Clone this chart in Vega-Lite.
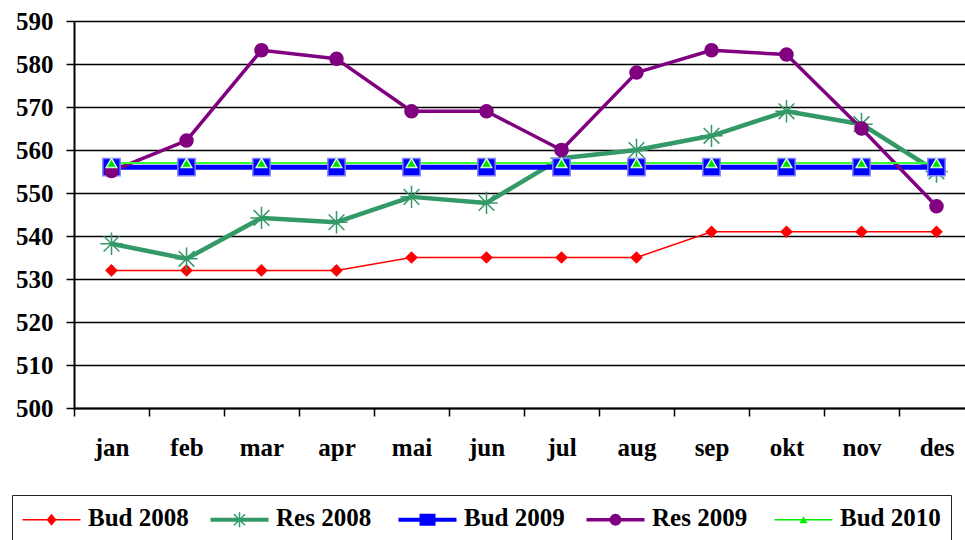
{
  "$schema": "https://vega.github.io/schema/vega-lite/v6.json",
  "width": 891,
  "height": 387,
  "autosize": {"type": "none"},
  "padding": {"left": 74, "top": 21, "right": 0, "bottom": 132},
  "background": "white",
  "config": {"view": {"stroke": null}, "font": "Liberation Serif"},
  "data": {
    "values": [
      {"month": "jan", "series": "Bud 2008", "value": 532},
      {"month": "feb", "series": "Bud 2008", "value": 532},
      {"month": "mar", "series": "Bud 2008", "value": 532},
      {"month": "apr", "series": "Bud 2008", "value": 532},
      {"month": "mai", "series": "Bud 2008", "value": 535},
      {"month": "jun", "series": "Bud 2008", "value": 535},
      {"month": "jul", "series": "Bud 2008", "value": 535},
      {"month": "aug", "series": "Bud 2008", "value": 535},
      {"month": "sep", "series": "Bud 2008", "value": 541},
      {"month": "okt", "series": "Bud 2008", "value": 541},
      {"month": "nov", "series": "Bud 2008", "value": 541},
      {"month": "des", "series": "Bud 2008", "value": 541},
      {"month": "jan", "series": "Res 2008", "value": 538.2},
      {"month": "feb", "series": "Res 2008", "value": 534.7},
      {"month": "mar", "series": "Res 2008", "value": 544.2},
      {"month": "apr", "series": "Res 2008", "value": 543.2},
      {"month": "mai", "series": "Res 2008", "value": 549.1},
      {"month": "jun", "series": "Res 2008", "value": 547.7},
      {"month": "jul", "series": "Res 2008", "value": 558.1},
      {"month": "aug", "series": "Res 2008", "value": 560},
      {"month": "sep", "series": "Res 2008", "value": 563.3},
      {"month": "okt", "series": "Res 2008", "value": 569},
      {"month": "nov", "series": "Res 2008", "value": 566},
      {"month": "des", "series": "Res 2008", "value": 555},
      {"month": "jan", "series": "Bud 2009", "value": 556},
      {"month": "feb", "series": "Bud 2009", "value": 556},
      {"month": "mar", "series": "Bud 2009", "value": 556},
      {"month": "apr", "series": "Bud 2009", "value": 556},
      {"month": "mai", "series": "Bud 2009", "value": 556},
      {"month": "jun", "series": "Bud 2009", "value": 556},
      {"month": "jul", "series": "Bud 2009", "value": 556},
      {"month": "aug", "series": "Bud 2009", "value": 556},
      {"month": "sep", "series": "Bud 2009", "value": 556},
      {"month": "okt", "series": "Bud 2009", "value": 556},
      {"month": "nov", "series": "Bud 2009", "value": 556},
      {"month": "des", "series": "Bud 2009", "value": 556},
      {"month": "jan", "series": "Res 2009", "value": 555.1},
      {"month": "feb", "series": "Res 2009", "value": 562.2},
      {"month": "mar", "series": "Res 2009", "value": 583.2},
      {"month": "apr", "series": "Res 2009", "value": 581.2},
      {"month": "mai", "series": "Res 2009", "value": 569},
      {"month": "jun", "series": "Res 2009", "value": 569},
      {"month": "jul", "series": "Res 2009", "value": 560},
      {"month": "aug", "series": "Res 2009", "value": 578},
      {"month": "sep", "series": "Res 2009", "value": 583.2},
      {"month": "okt", "series": "Res 2009", "value": 582.2},
      {"month": "nov", "series": "Res 2009", "value": 565},
      {"month": "des", "series": "Res 2009", "value": 546.9},
      {"month": "jan", "series": "Bud 2010", "value": 557},
      {"month": "feb", "series": "Bud 2010", "value": 557},
      {"month": "mar", "series": "Bud 2010", "value": 557},
      {"month": "apr", "series": "Bud 2010", "value": 557},
      {"month": "mai", "series": "Bud 2010", "value": 557},
      {"month": "jun", "series": "Bud 2010", "value": 557},
      {"month": "jul", "series": "Bud 2010", "value": 557},
      {"month": "aug", "series": "Bud 2010", "value": 557},
      {"month": "sep", "series": "Bud 2010", "value": 557},
      {"month": "okt", "series": "Bud 2010", "value": 557},
      {"month": "nov", "series": "Bud 2010", "value": 557},
      {"month": "des", "series": "Bud 2010", "value": 557}
    ]
  },
  "encoding": {
    "x": {
      "field": "month",
      "type": "ordinal",
      "sort": ["jan", "feb", "mar", "apr", "mai", "jun", "jul", "aug", "sep", "okt", "nov", "des"],
      "scale": {"type": "band", "paddingInner": 0, "paddingOuter": 0, "range": [0, 900]},
      "bandPosition": 0.5,
      "axis": {
        "title": null,
        "tickBand": "extent",
        "labelAngle": 0,
        "labelFont": "Liberation Serif",
        "labelFontSize": 25,
        "labelFontWeight": "bold",
        "labelColor": "black",
        "labelPadding": 19,
        "tickSize": 8,
        "tickColor": "black",
        "tickWidth": 1.5,
        "domainColor": "black",
        "domainWidth": 2,
        "grid": false
      }
    },
    "y": {
      "field": "value",
      "type": "quantitative",
      "scale": {"domain": [500, 590], "nice": false, "zero": false},
      "axis": {
        "title": null,
        "values": [500, 510, 520, 530, 540, 550, 560, 570, 580, 590],
        "labelFont": "Liberation Serif",
        "labelFontSize": 25,
        "labelFontWeight": "bold",
        "labelColor": "black",
        "labelPadding": 13,
        "tickSize": 8,
        "tickColor": "black",
        "tickWidth": 1.5,
        "grid": true,
        "gridColor": "black",
        "gridWidth": 1.7,
        "gridOpacity": 1,
        "domainColor": "black",
        "domainWidth": 2
      }
    }
  },
  "layer": [
    {
      "mark": {"type": "line", "strokeJoin": "round"},
      "encoding": {
        "color": {
          "field": "series",
          "type": "nominal",
          "scale": {
            "domain": ["Bud 2008", "Res 2008", "Bud 2009", "Res 2009", "Bud 2010"],
            "range": ["#ff0000", "#339966", "#0000ff", "#800080", "#33ff33"]
          },
          "legend": null
        },
        "strokeWidth": {
          "field": "series",
          "type": "nominal",
          "scale": {
            "type": "ordinal",
            "domain": ["Bud 2008", "Res 2008", "Bud 2009", "Res 2009", "Bud 2010"],
            "range": [1.5, 4.5, 5, 3.5, 2]
          },
          "legend": null
        }
      }
    },
    {
      "mark": {"type": "point", "strokeWidth": 1.5, "opacity": 1},
      "encoding": {
        "shape": {
          "field": "series",
          "type": "nominal",
          "scale": {
            "domain": ["Bud 2008", "Res 2008", "Bud 2009", "Res 2009", "Bud 2010"],
            "range": ["diamond", "M-1,0H1M0,-1V1M-0.7,-0.7L0.7,0.7M-0.7,0.7L0.7,-0.7", "square", "circle", "triangle-up"]
          },
          "legend": null
        },
        "fill": {
          "field": "series",
          "type": "nominal",
          "scale": {
            "domain": ["Bud 2008", "Res 2008", "Bud 2009", "Res 2009", "Bud 2010"],
            "range": ["#ff0000", "transparent", "#0000ff", "#800080", "#00dd00"]
          },
          "legend": null
        },
        "stroke": {
          "field": "series",
          "type": "nominal",
          "scale": {
            "domain": ["Bud 2008", "Res 2008", "Bud 2009", "Res 2009", "Bud 2010"],
            "range": ["#ff0000", "#339966", "#8080ff", "#800080", "#ccffcc"]
          },
          "legend": null
        },
        "size": {
          "field": "series",
          "type": "nominal",
          "scale": {
            "type": "ordinal",
            "domain": ["Bud 2008", "Res 2008", "Bud 2009", "Res 2009", "Bud 2010"],
            "range": [110, 500, 300, 170, 110]
          },
          "legend": null
        }
      }
    },
    {
      "transform": [{"filter": "datum.value < 0"}],
      "mark": {"type": "point", "filled": true},
      "encoding": {
        "color": {
          "field": "series",
          "type": "nominal",
          "scale": {
            "domain": ["Bud 2008", "Bud 2009", "Bud 2010", "Res 2008", "Res 2009"],
            "range": ["#ff0000", "#0000ff", "#00ee00", "#339966", "#800080"]
          },
          "legend": {
            "title": null,
            "values": ["Bud 2008", "Res 2008", "Bud 2009", "Res 2009", "Bud 2010"],
            "orient": "none",
            "legendX": -62,
            "legendY": 474,
            "direction": "horizontal",
            "columns": 5,
            "gridAlign": "all",
            "columnPadding": 21,
            "padding": 10,
            "strokeColor": "#222222",
            "symbolSize": 400,
            "symbolStrokeWidth": 0,
            "symbolOpacity": 1,
            "labelOffset": 41,
            "labelFont": "Liberation Serif",
            "labelFontSize": 25,
            "labelFontWeight": "bold",
            "labelColor": "black",
            "labelLimit": 300
          }
        },
        "shape": {
          "field": "series",
          "type": "nominal",
          "scale": {
            "domain": ["Bud 2008", "Bud 2009", "Bud 2010", "Res 2008", "Res 2009"],
            "range": [
              "M-1.2,0.125H4.6V0.275H-1.2ZM1.7,-0.4L2.2,0.2L1.7,0.8L1.2,0.2Z",
              "M-1.2,0H4.6V0.4H-1.2ZM0.9,-0.4H2.5V0.8H0.9Z",
              "M-1.2,0.125H4.6V0.275H-1.2ZM1.7,-0.15L2.1,0.55L1.3,0.55Z",
              "M-1.2,0H4.6V0.4H-1.2ZM1.625,-0.55H1.775V0.95H1.625ZM1.203,-0.403L2.303,0.697L2.197,0.803L1.097,-0.297ZM1.097,0.697L2.197,-0.403L2.303,-0.297L1.203,0.803Z",
              "M-1.2,0.025H4.6V0.375H-1.2ZM2.3,0.2L2.22,0.5L2,0.72L1.7,0.8L1.4,0.72L1.18,0.5L1.1,0.2L1.18,-0.1L1.4,-0.32L1.7,-0.4L2,-0.32L2.22,-0.1Z"
            ]
          },
          "legend": {
            "title": null,
            "values": ["Bud 2008", "Res 2008", "Bud 2009", "Res 2009", "Bud 2010"],
            "orient": "none",
            "legendX": -62,
            "legendY": 474,
            "direction": "horizontal",
            "columns": 5,
            "gridAlign": "all",
            "columnPadding": 21,
            "padding": 10,
            "strokeColor": "#222222",
            "symbolSize": 400,
            "symbolStrokeWidth": 0,
            "symbolOpacity": 1,
            "labelOffset": 41,
            "labelFont": "Liberation Serif",
            "labelFontSize": 25,
            "labelFontWeight": "bold",
            "labelColor": "black",
            "labelLimit": 300
          }
        }
      }
    }
  ],
  "resolve": {"scale": {"color": "independent", "shape": "independent"}}
}
